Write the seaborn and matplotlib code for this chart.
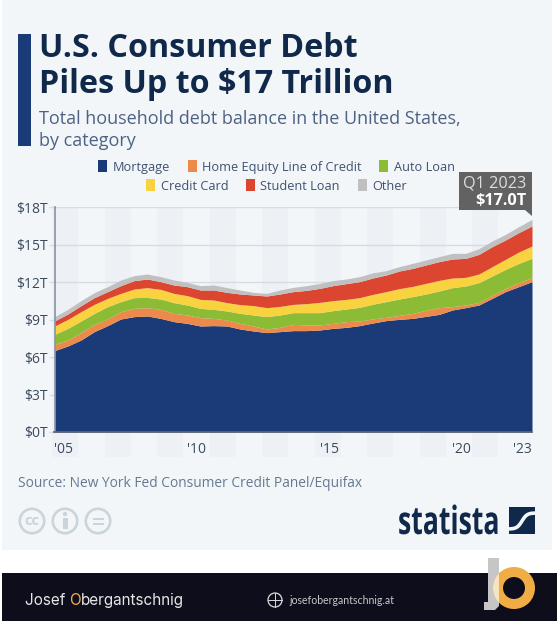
"""
U.S. consumer debt by category, stacked area in the Statista card style.
"""

import matplotlib
matplotlib.use("Agg")
import matplotlib.pyplot as plt
import numpy as np
import seaborn as sns
from matplotlib.patches import Circle, Polygon, Rectangle
from matplotlib.patheffects import AbstractPathEffect
from matplotlib.transforms import Affine2D, ScaledTranslation

W, H = 557, 625

# half-year steps, Q1 2005 to Q1 2023
PERIODS = [2005 + 0.5 * i for i in range(37)]
CATEGORIES = ["Mortgage", "Home Equity Line of Credit", "Auto Loan",
              "Credit Card", "Student Loan", "Other"]
MORTGAGE = [6.51, 6.88, 7.36, 8.03, 8.51, 9.04, 9.23, 9.28, 9.09, 8.83, 8.69, 8.48, 8.51,
            8.48, 8.24, 8.08, 7.95, 8.03, 8.11, 8.11, 8.16, 8.29, 8.37, 8.51, 8.72,
            8.91, 9.01, 9.09, 9.25, 9.41, 9.76, 9.95, 10.16, 10.69, 11.23, 11.63, 12.03]
HELOC = [.50, .48, .59, .58, .53, .59, .66, .67, .72, .66, .67, .67, .58,
         .48, .45, .40, .29, .34, .50, .45, .40, .40, .46, .37, .33,
         .26, .32, .40, .48, .54, .27, .21, .21, .24, .24, .32, .32]
AUTO = [.80, .93, .93, .88, .99, .80, .86, .82, .83, .86, .80, .74, .72,
        .72, .80, .88, .99, .99, .94, .99, .99, 1.02, 1.01, 1.09, 1.17,
        1.26, 1.31, 1.34, 1.31, 1.33, 1.52, 1.52, 1.58, 1.55, 1.54, 1.54, 1.54]
CREDIT = [.67, .72, .75, .72, .66, .66, .69, .78, .77, .74, .75, .72, .75,
          .67, .70, .75, .72, .69, .66, .72, .82, .80, .77, .78, .79,
          .80, .83, .82, .85, .85, .77, .69, .69, .75, .80, .91, .99]
STUDENT = [.40, .43, .48, .54, .54, .62, .67, .69, .62, .67, .72, .75, .80,
           .82, .85, .85, .93, .99, 1.02, 1.06, 1.12, 1.20, 1.26, 1.28, 1.31,
           1.33, 1.41, 1.44, 1.47, 1.50, 1.52, 1.52, 1.57, 1.60, 1.55, 1.55, 1.60]
OTHER = [.35, .37, .40, .40, .40, .45, .40, .40, .40, .40, .34, .35, .40,
         .38, .32, .21, .21, .32, .34, .38, .40, .40, .37, .40, .41,
         .35, .35, .40, .40, .40, .45, .40, .46, .45, .45, .48, .53]

Y_TICKS = [0, 3, 6, 9, 12, 15, 18]
X_TICKS = [2005, 2010, 2015, 2020, 2023]
X_LABELS = ["'05", "'10", "'15", "'20", "'23"]
BAND_YEARS = [2005, 2007, 2009, 2011, 2013, 2015, 2017, 2019, 2021]

COLORS = ["#1b3b78", "#ec8a4c", "#8cbc35", "#f8d23f", "#dc4530", "#c0c0c0"]
NAVY = "#10284a"
SLATE = "#4d6283"
CARD = "#f3f6f9"
BAND = "#edf1f6"
GRID = "#d6dbe5"
ICON = "#c9d4db"
FOOTER = "#0d0d1b"
GOLD = "#f0ad45"

sns.set_theme(style="white")
plt.rcParams["font.family"] = ["Open Sans", "DejaVu Sans"]


class Squeeze(AbstractPathEffect):
    # narrows a text horizontally, there is no condensed font installed
    def __init__(self, x0, factor):
        super().__init__()
        self.squeeze = Affine2D().translate(-x0, 0).scale(factor, 1).translate(x0, 0)

    def draw_path(self, renderer, gc, tpath, affine, rgbFace=None):
        renderer.draw_path(gc, tpath, affine + self.squeeze, rgbFace)


def overlay(fig, zorder):
    # full-figure axes that work in image pixels
    layer = fig.add_axes([0, 0, 1, 1], zorder=zorder)
    layer.set_xlim(0, W)
    layer.set_ylim(H, 0)
    layer.axis("off")
    return layer


def box(layer, x0, y0, x1, y1, color):
    layer.add_patch(Rectangle((x0, y0), x1 - x0, y1 - y0, facecolor=color, edgecolor="none"))


fig = plt.figure(figsize=(W / 100, H / 100), dpi=100, facecolor="white")
back = overlay(fig, 0)
front = overlay(fig, 3)

box(back, 2, 0, 552, 550, CARD)
box(back, 2, 573, W, 621, FOOTER)
box(back, 18, 34, 31, 146, COLORS[0])

back.text(39, 57, "U.S. Consumer Debt", fontsize=23.2, fontweight="bold", color=NAVY)
back.text(39, 93, "Piles Up to $17 Trillion", fontsize=23.2, fontweight="bold", color=NAVY)
back.text(39, 124, "Total household debt balance in the United States,", fontsize=13, color=SLATE)
back.text(39, 146, "by category", fontsize=13, color=SLATE)

# plot area: $0T at y=432, $18T at y=207
ax = fig.add_axes([54.5 / W, 1 - 432 / H, 477.5 / W, 225 / H], zorder=2)
ax.patch.set_alpha(0)
for year in BAND_YEARS:
    left = 2005 + (year - 2005) * 0.99 - 0.09
    ax.axvspan(left, left + 0.98, ymin=-25 / 225, ymax=1, color=BAND, lw=0, zorder=0, clip_on=False)
ax.set_axisbelow(True)
ax.grid(axis="y", color=GRID, lw=1, zorder=1)
polys = ax.stackplot(PERIODS, MORTGAGE, HELOC, AUTO, CREDIT, STUDENT, OTHER,
                     colors=COLORS, labels=CATEGORIES, lw=0, zorder=2)
ax.set_xlim(2005, 2023)
ax.set_ylim(0, 18)
ax.set_yticks(Y_TICKS)
ax.set_yticklabels([f"${v}T" for v in Y_TICKS], fontsize=10, color="#3c4a5e")
ax.set_xticks(X_TICKS)
ax.set_xticklabels(X_LABELS, fontsize=10, color="#3c4a5e")
label_shift = ScaledTranslation(2 / 100, 0, fig.dpi_scale_trans)
for tick, label in zip(X_TICKS, ax.get_xticklabels()):
    label.set_horizontalalignment("right" if tick == 2023 else "left")
    label.set_transform(label.get_transform() + label_shift)
ax.tick_params(axis="y", length=4, width=1, color=GRID, pad=1, left=True)
ax.tick_params(axis="x", length=0, pad=7)
sns.despine(ax=ax, top=True, right=True)
ax.spines["left"].set_color("#8b95a5")
ax.spines["bottom"].set_color("#5d6675")

for handles, labels, y in [(polys[:3], CATEGORIES[:3], 167), (polys[3:], CATEGORIES[3:], 186)]:
    fig.legend(handles, labels, ncol=3, loc="center", bbox_to_anchor=(276.5 / W, 1 - y / H),
               frameon=False, fontsize=9.2, labelcolor="#3f5270", handlelength=0.7,
               handleheight=1.0, handletextpad=0.42, columnspacing=1.4,
               borderpad=0, borderaxespad=0)

# last value callout
box(front, 459, 172, 532, 210, "#626262")
front.add_patch(Polygon([(525, 210), (532, 210), (532, 216)], facecolor="#626262", edgecolor="none"))
front.text(526, 187, "Q1 2023", fontsize=11.7, color="#dddddd", ha="right")
front.text(526, 205, "$17.0T", fontsize=11.7, fontweight="bold", color="white", ha="right")

back.text(18, 487, "Source: New York Fed Consumer Credit Panel/Equifax", fontsize=9.9, color="#667892")

# licence icons
for cx in [32, 65, 98]:
    back.add_patch(Circle((cx, 521), 12.2, facecolor="none", edgecolor=ICON, lw=1.9))
back.text(32, 521, "cc", fontsize=10.5, fontweight="bold", color=ICON, ha="center", va="center")
back.add_patch(Circle((65, 514), 2.2, facecolor=ICON, edgecolor="none"))
box(back, 62.5, 517.5, 67.5, 529, ICON)
box(back, 92.5, 517.5, 103.5, 519.5, ICON)
box(back, 92.5, 522.5, 103.5, 524.5, ICON)

# statista logo
logo_text = back.text(398, 534, "statista", fontsize=28, fontweight="bold", color=NAVY)
logo_text.set_path_effects([Squeeze(398, 0.685)])
box(back, 509, 507, 535, 534, NAVY)
curve_x = np.linspace(509, 535, 30)
curve_y = 521 - 8 * np.tanh((curve_x - 522) / 5)
back.plot(curve_x, curve_y, color=CARD, lw=2.6, solid_capstyle="butt")

# footer
name_y = 605
first = back.text(25, name_y, "Josef ", fontsize=11, color="#e6e6e6", family="Inter")
fig.canvas.draw()
rend = fig.canvas.get_renderer()
inv = back.transData.inverted()
x_next = inv.transform(first.get_window_extent(rend))[1, 0]
gold = back.text(x_next, name_y, "O", fontsize=11, color=GOLD, family="Inter")
x_next = inv.transform(gold.get_window_extent(rend))[1, 0]
back.text(x_next, name_y, "bergantschnig", fontsize=11, color="#e6e6e6", family="Inter")

back.add_patch(Circle((275, 600), 7, facecolor="none", edgecolor="#dddddd", lw=0.9))
back.plot([268, 282], [600, 600], color="#dddddd", lw=0.7)
back.plot([275, 275], [593, 607], color="#dddddd", lw=0.7)
back.text(289, 603.5, "josefobergantschnig.at", fontsize=7.6, color="#c8c8c8", family="Lato")

# jo logo
front.add_patch(Polygon([(488, 558), (499, 558), (499, 606), (495, 610), (484, 610), (484, 602), (488, 602)],
                        facecolor="#c6c6c6", edgecolor="none"))
front.add_patch(Circle((514, 588), 16, facecolor="none", edgecolor=GOLD, lw=7.2))
overlap = Circle((514, 588), 16, facecolor="none", edgecolor="#f8e3c0", lw=7.2)
front.add_patch(overlap)
overlap.set_clip_path(Rectangle((488, 558), 11, 52, transform=front.transData))

plt.savefig("out.png", dpi=100)
plt.close()
